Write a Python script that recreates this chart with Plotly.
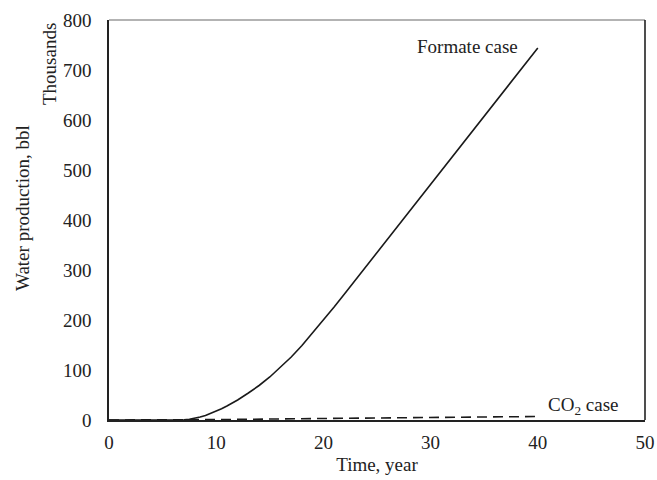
import plotly.graph_objects as go

# Cumulative water production (thousands of bbl) versus time (years)
formate_years = [0, 6.6, 7, 7.5, 8, 8.5, 9, 9.5, 10, 10.5, 11, 12, 13, 14, 15, 16, 17, 18, 19, 20, 21, 22, 25, 30, 35, 40]
formate_water = [0, 0, 0.5, 1.6, 3.5, 6, 9, 13, 17.5, 22.5, 28, 40, 54, 69, 86, 105, 126, 149, 174, 200, 226, 253, 335, 471, 607, 744]

co2_years = [0, 7, 10, 20, 30, 40]
co2_water = [0, 0, 0.8, 3, 5, 7]

x_ticks = [0, 10, 20, 30, 40, 50]
y_ticks = [0, 100, 200, 300, 400, 500, 600, 700, 800]

FONT = "Liberation Serif, Times New Roman, serif"
FS = 19

# plot area geometry in pixels
W, H = 657, 480
ML, MR, MT, MB = 109, 12, 20, 60
plot_w = W - ML - MR
plot_h = H - MT - MB


def px_to_paper(px, py):
    return (px - ML) / plot_w, (H - MB - py) / plot_h


fig = go.Figure()
fig.add_trace(go.Scatter(x=formate_years, y=formate_water, mode="lines",
                         line=dict(color="#1a1a1a", width=1.6),
                         name="Formate case"))
fig.add_trace(go.Scatter(x=co2_years, y=co2_water, mode="lines",
                         line=dict(color="#1a1a1a", width=1.6, dash="10px,6px"),
                         name="CO2 case"))

fig.add_annotation(x=38.3, y=747, xref="x", yref="y", text="Formate case",
                   showarrow=False, xanchor="right", yanchor="middle",
                   font=dict(family=FONT, size=FS, color="#222"))
fig.add_annotation(x=40.8, y=28, xref="x", yref="y",
                   text="CO<sub>2</sub> case", showarrow=False,
                   xanchor="left", yanchor="middle",
                   font=dict(family=FONT, size=FS, color="#222"))

# y-axis titles
tx, ty = px_to_paper(22, 208)
fig.add_annotation(x=tx, y=ty, xref="paper", yref="paper",
                   text="Water production, bbl", textangle=-90, showarrow=False,
                   xanchor="center", yanchor="middle",
                   font=dict(family=FONT, size=FS, color="#222"))
tx, ty = px_to_paper(50, 64)
fig.add_annotation(x=tx, y=ty, xref="paper", yref="paper",
                   text="Thousands", textangle=-90, showarrow=False,
                   xanchor="center", yanchor="middle",
                   font=dict(family=FONT, size=FS, color="#222"))

# frame: gray top edge, dark right edge
fig.add_shape(type="line", xref="paper", yref="paper", x0=0, y0=1, x1=1, y1=1,
              line=dict(color="#9a9a9a", width=1.6), layer="below")
fig.add_shape(type="line", xref="paper", yref="paper", x0=1, y0=0, x1=1, y1=1,
              line=dict(color="#222", width=1.6), layer="below")

fig.update_layout(
    width=W, height=H,
    margin=dict(l=ML, r=MR, t=MT, b=MB),
    paper_bgcolor="white", plot_bgcolor="white",
    showlegend=False,
    font=dict(family=FONT, size=FS, color="#222"),
)
fig.update_xaxes(range=[0, 50], tickvals=x_ticks, showgrid=False, zeroline=False,
                 showline=True, linecolor="#222", linewidth=1.6, ticks="",
                 automargin=False, ticklabelstandoff=4,
                 title=dict(text="Time, year", font=dict(family=FONT, size=FS), standoff=6))
fig.update_yaxes(range=[0, 800], tickvals=y_ticks, showgrid=False, zeroline=False,
                 showline=True, linecolor="#222", linewidth=1.6, ticks="",
                 automargin=False, ticklabelstandoff=12)

fig.write_html("out.html")
